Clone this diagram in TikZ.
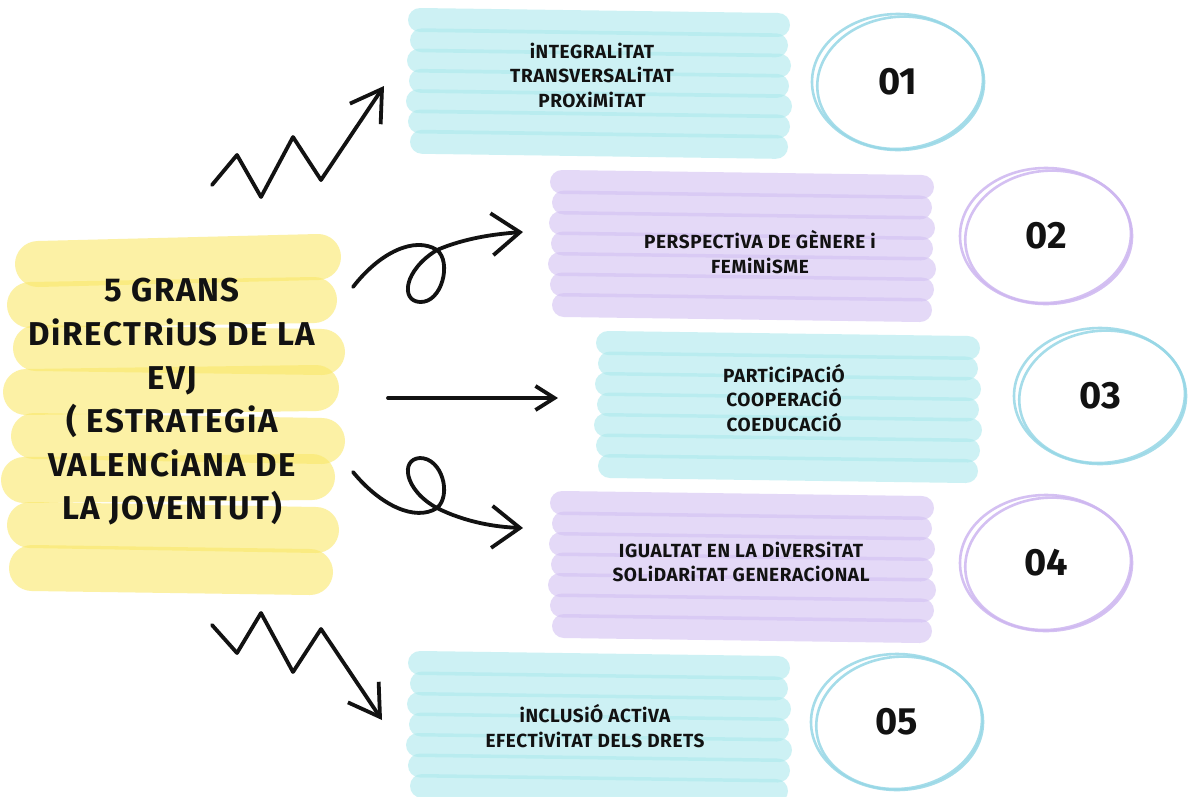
\documentclass[tikz,border=0pt]{standalone}
\usepackage{fontspec}
\setmainfont{Fira Sans}
\newfontfamily\hand[LetterSpace=3]{Fira Sans}
\newfontfamily\handbig[LetterSpace=5]{Fira Sans}
\usetikzlibrary{arrows.meta}
\definecolor{cyanst}{RGB}{172,233,237}
\definecolor{purpst}{RGB}{210,193,242}
\definecolor{yelst}{RGB}{250,232,105}
\definecolor{cyanc}{RGB}{150,215,230}
\definecolor{purpc}{RGB}{205,182,240}
\definecolor{inkc}{RGB}{18,18,18}
\newcommand{\brushblock}[6]{% #1 style, #2 xleft, #3 xright, #4 first y, #5 count, #6 spacing
  \foreach \bk in {1,...,#5}{
    \pgfmathsetmacro\bry{#4+(\bk-1)*#6}
    \pgfmathsetmacro\brd{mod(\bk*7,5)-2}
    \draw[#1] (#2+\brd,\bry-2) -- (#3-\brd,\bry+3);
  }}
\begin{document}
\begin{tikzpicture}[x=1pt,y=-1pt,
  cstripe/.style={line cap=round, draw=cyanst, draw opacity=0.6, line width=24pt},
  pstripe/.style={line cap=round, draw=purpst, draw opacity=0.6, line width=24pt},
  ystripe/.style={line cap=round, draw=yelst, draw opacity=0.6, line width=46pt},
  txt/.style={font=\hand\bfseries\fontsize{19}{24.5}\selectfont, align=center, inner sep=0pt, text=inkc},
  bigtxt/.style={font=\handbig\bfseries\fontsize{33}{43.6}\selectfont, align=center, inner sep=0pt, text=inkc},
  num/.style={font=\bfseries\fontsize{38}{40}\selectfont, inner sep=0pt, text=inkc},
  ring/.style={line width=2.6pt, draw opacity=0.85},
  handline/.style={line width=3.8pt, line cap=round, line join=round, draw=inkc},
  zigtip/.style={-{Straight Barb[length=30pt,width=37pt]}},
  looptip/.style={-{Straight Barb[length=28pt,width=42pt]}},
  smalltip/.style={-{Straight Barb[length=19pt,width=24pt]}}
]
\useasboundingbox (0,0) rectangle (1194,796);
\fill[white] (0,0) rectangle (1194,796);

% yellow block
\draw[ystripe] (38,264) -- (318,257);
\draw[ystripe] (30,305) -- (314,300);
\draw[ystripe] (36,348) -- (322,352);
\draw[ystripe] (26,392) -- (316,388);
\draw[ystripe] (34,436) -- (322,441);
\draw[ystripe] (24,480) -- (312,477);
\draw[ystripe] (30,525) -- (316,530);
\draw[ystripe] (32,568) -- (310,572);
\node[bigtxt] (main) at (172,402) {5 GRANS\\DiRECTRiUS DE LA\\EVJ\\( ESTRATEGiA\\VALENCiANA DE\\LA JOVENTUT)};

% blocks
\brushblock{cstripe}{420}{778}{22}{7}{20.3}
\brushblock{pstripe}{562}{922}{184}{7}{20.5}
\brushblock{cstripe}{608}{968}{345}{7}{20.5}
\brushblock{pstripe}{562}{922}{505}{7}{20.5}
\brushblock{cstripe}{420}{778}{665}{7}{20.5}

\node[txt] (t1) at (592,75) {iNTEGRALiTAT\\TRANSVERSALiTAT\\PROXiMiTAT};
\node[txt] (t2) at (760,252) {PERSPECTiVA DE GÈNERE i\\FEMiNiSME};
\node[txt] (t3) at (784,398) {PARTiCiPACiÓ\\COOPERACiÓ\\COEDUCACiÓ};
\node[txt] (t4) at (741,562) {IGUALTAT EN LA DiVERSiTAT\\SOLiDARiTAT GENERACiONAL};
\node[txt] (t5) at (595,726) {iNCLUSiÓ ACTiVA\\EFECTiViTAT DELS DRETS};

% numbers and rings
\node[num] (n1) at (898,82) {01};
\node[num] (n2) at (1046,236) {02};
\node[num] (n3) at (1100,396) {03};
\node[num] (n4) at (1046,563) {04};
\node[num] (n5) at (897,722) {05};
\foreach \n/\c in {n1/cyanc,n2/purpc,n3/cyanc,n4/purpc,n5/cyanc}{
  \draw[ring, draw=\c] (\n) ellipse [x radius=86, y radius=68];
  \draw[ring, draw=\c, rotate around={6:(\n)}] ([shift={(2,1)}]\n) ellipse [x radius=83, y radius=66];
}

% arrows
\coordinate (a1s) at (212,185);
\coordinate (a1e) at (384,86);
\draw[handline, zigtip] (a1s) -- (237,155) -- (261,197) -- (293,137) -- (321,180) -- (a1e);

\coordinate (a2s) at (353,287);
\coordinate (a2e) at (523,232);
\draw[handline, looptip] (a2s) .. controls (380,252) and (415,236) .. (437,250)
  .. controls (452,262) and (442,303) .. (420,302)
  .. controls (400,301) and (404,270) .. (437,250)
  .. controls (465,238) and (495,234) .. (a2e);

\coordinate (a3s) at (388,398);
\coordinate (a3e) at (558,398);
\draw[handline, smalltip] (a3s) -- (a3e);

\coordinate (a4s) at (353,472);
\coordinate (a4e) at (523,528);
\draw[handline, looptip] (a4s) .. controls (380,505) and (415,522) .. (437,508)
  .. controls (452,495) and (442,458) .. (420,458)
  .. controls (400,459) and (404,490) .. (437,508)
  .. controls (465,522) and (495,527) .. (a4e);

\coordinate (a5s) at (212,625);
\coordinate (a5e) at (382,720);
\draw[handline, zigtip] (a5s) -- (237,653) -- (261,613) -- (293,672) -- (321,629) -- (a5e);
\end{tikzpicture}
\end{document}
